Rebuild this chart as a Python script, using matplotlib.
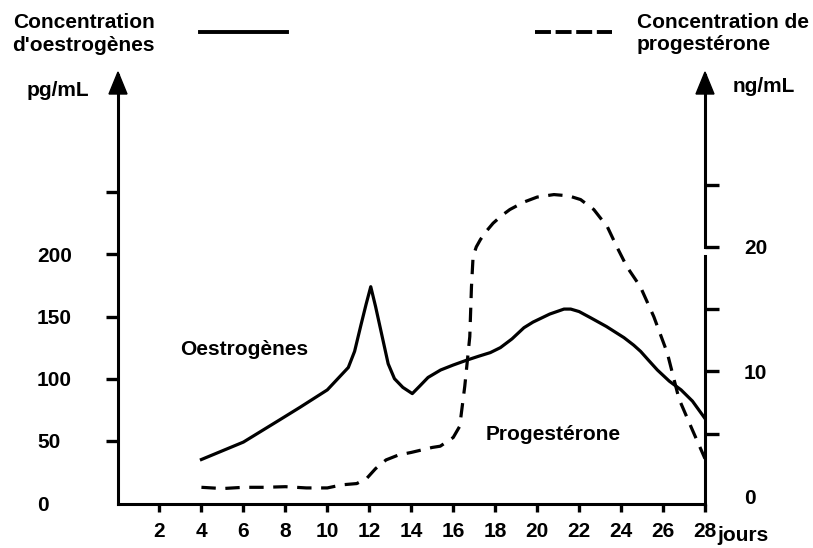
import matplotlib
matplotlib.use("Agg")
import matplotlib.pyplot as plt
from matplotlib.patches import Polygon
from matplotlib.lines import Line2D

# --- data ------------------------------------------------------------------
# oestrogens (pg/mL, left axis)
oes_day = [4, 6, 7.74, 8.7, 10, 10.5, 11, 11.3, 11.6, 11.85, 12.07, 12.3, 12.6,
           12.9, 13.2, 13.6, 14.05, 14.4, 14.8, 15.4, 16, 16.66, 17.2, 17.77,
           18.25, 18.8, 19.37, 19.8, 20.6, 21.28, 21.6, 22.0, 22.55, 23.3,
           24.14, 24.6, 24.93, 25.3, 25.73, 26.3, 26.86, 27.4, 28]
oes_pg = [35, 49, 67, 77, 91, 100, 109, 122, 143, 160, 174, 158, 135,
          112, 100, 93, 88, 94, 101, 107, 111, 115, 118, 121,
          125, 132, 141, 145.5, 152, 156, 156, 154, 149, 142,
          133, 127, 122, 115, 107, 98, 91, 82, 68]

# progesterone (ng/mL, right axis)
pro_day = [4, 5, 6, 7, 8, 9, 10, 10.7, 11.4, 11.87, 12.3, 12.8, 13.4, 14, 15,
           15.38, 16, 16.31, 16.55, 16.79, 16.87, 16.94, 17.0, 17.1, 17.3,
           17.6, 17.9, 18.3, 18.7, 19.37, 20, 20.8, 21.5, 22.07, 22.7, 23.35,
           23.8, 24.28, 24.92, 25.56, 26.2, 26.76, 27.4, 28]
pro_ng = [0.7, 0.6, 0.7, 0.7, 0.75, 0.65, 0.65, 0.9, 1.0, 1.4, 2.2, 2.9, 3.3,
          3.5, 3.9, 4.0, 4.7, 5.6, 8.8, 12.8, 16.8, 19.0, 19.5, 20.0, 20.6,
          21.3, 21.9, 22.5, 23.0, 23.6, 24.0, 24.2, 24.1, 23.8, 23.0, 21.6,
          20.0, 18.4, 16.8, 14.4, 11.5, 7.8, 5.3, 3.0]

x_ticks = list(range(2, 29, 2))
left_ticks = [50, 100, 150, 200, 250]
left_labels = ["50", "100", "150", "200", ""]
right_ticks = [5, 10, 15, 20, 25]
right_labels = ["", "10", "", "20", ""]

W, H = 813, 548
plt.rcParams["font.family"] = ["Liberation Sans", "DejaVu Sans"]
plt.rcParams["font.weight"] = "bold"
FS = 15


def px(x, y):
    return (x / W, 1 - y / H)


fig = plt.figure(figsize=(W / 100, H / 100), dpi=100)
x0, y_top = px(117.5, 75)
x1, y_bot = px(705, 504)
ax = fig.add_axes([x0, y_bot, x1 - x0, y_top - y_bot])
ax2 = ax.twinx()

LW = 2.3
ax.plot(oes_day, oes_pg, color="black", lw=LW, solid_joinstyle="round")
ax2.plot(pro_day, pro_ng, color="black", lw=LW, linestyle=(0, (4.5, 3)))

ax.set_xlim(0, 28)
ax.set_ylim(-0.8, 344.3)
ax2.set_ylim(-0.64, 33.8)

for s in ("top", "right"):
    ax.spines[s].set_visible(False)
for s in ("top", "right", "left", "bottom"):
    ax2.spines[s].set_visible(False)
ax.spines["left"].set_linewidth(2.2)
ax.spines["bottom"].set_linewidth(2.2)

# right axis drawn by hand: the scan shows a small break just under 20
tr = ax2.get_yaxis_transform()
ax2.plot([1, 1], [-0.64, 19.3], color="black", lw=2.2, transform=tr, clip_on=False)
ax2.plot([1, 1], [20, 33.8], color="black", lw=2.2, transform=tr, clip_on=False)

ax.set_xticks(x_ticks)
ax.set_xticklabels([str(d) for d in x_ticks])
ax.tick_params(axis="x", direction="out", length=6, width=2.4, pad=7, labelsize=FS)

ax.set_yticks(left_ticks)
ax.set_yticklabels(left_labels)
ax.set_yticks([0], minor=True)
ax.set_yticklabels(["0"], minor=True)
ax.tick_params(axis="y", which="major", direction="out", length=9, width=2.4,
               pad=49, labelsize=FS)
ax.tick_params(axis="y", which="minor", length=0, pad=58, labelsize=FS)
for lab in ax.get_yticklabels() + ax.get_yticklabels(minor=True):
    lab.set_horizontalalignment("left")

ax2.set_yticks(right_ticks)
ax2.set_yticklabels(right_labels)
ax2.set_yticks([0], minor=True)
ax2.set_yticklabels(["0"], minor=True)
ax2.tick_params(axis="y", which="major", direction="out", length=10, width=2.4,
                pad=18, labelsize=FS)
ax2.tick_params(axis="y", which="minor", length=0, pad=28, labelsize=FS)

# arrow heads on both vertical axes
for xa in (118, 705):
    fig.patches.append(Polygon([px(xa, 72), px(xa - 9, 94), px(xa + 9, 94)],
                               closed=True, transform=fig.transFigure,
                               facecolor="black", edgecolor="black"))

# header legend
fig.text(*px(13, 28), "Concentration", fontsize=FS, va="baseline")
fig.text(*px(12, 51), "d'oestrogènes", fontsize=FS, va="baseline")
fig.lines.append(Line2D([200 / W, 287 / W], [1 - 32 / H] * 2, color="black",
                        lw=2.8, transform=fig.transFigure))
fig.text(*px(637, 28), "Concentration de", fontsize=FS, va="baseline")
fig.text(*px(637, 50), "progestérone", fontsize=FS, va="baseline")
fig.lines.append(Line2D([535 / W, 612 / W], [1 - 32 / H] * 2, color="black",
                        lw=2.8, linestyle=(0, (4.1, 1.2)), transform=fig.transFigure))

fig.text(*px(27, 96), "pg/mL", fontsize=FS, va="baseline")
fig.text(*px(733, 92), "ng/mL", fontsize=FS, va="baseline")
fig.text(*px(180, 355), "Oestrogènes", fontsize=FS, va="baseline")
fig.text(*px(486, 440), "Progestérone", fontsize=FS, va="baseline")
fig.text(*px(717, 541), "jours", fontsize=FS, va="baseline")

fig.savefig("out.png", dpi=100)
